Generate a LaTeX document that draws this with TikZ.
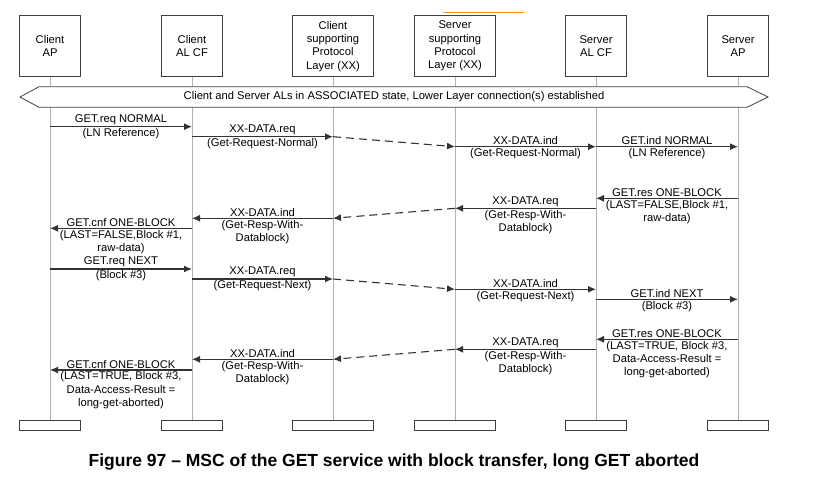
\documentclass[tikz,border=0pt]{standalone}
\usepackage{fontspec}
\setmainfont{Liberation Sans}
\usetikzlibrary{arrows.meta,positioning}

\begin{document}
\begin{tikzpicture}[x=1pt, y=-1pt, font=\fontsize{11.2}{13.3}\selectfont]
\tikzstyle{entity}=[draw=black!75, thick, minimum width=61pt, minimum height=61pt, align=center, inner sep=1pt]
\tikzstyle{wide}=[entity, minimum width=81pt]
\tikzstyle{foot}=[draw=black!75, thick, minimum width=61pt, minimum height=10pt, inner sep=0pt]
\tikzstyle{lifeline}=[draw=black!30, semithick]
\tikzstyle{msg}=[draw=black!80, line width=1.1pt, -{Latex[length=8pt,width=7pt]}]
\tikzstyle{net}=[msg, dash pattern=on 8pt off 5pt]
\tikzstyle{up}=[above, inner sep=1.2pt]
\tikzstyle{down}=[below, align=center, inner sep=1.2pt]
\useasboundingbox (0,0) rectangle (814,478);

\draw[orange!80!yellow, thick] (443,12.3) -- (524,12.3);

% entities
\node[entity] (cap)  at (50,46.2)  {Client\\AP};
\node[entity] (ccf)  at (192,46.2) {Client\\AL CF};
\node[wide]   (cpl)  at (333,46.2) {Client\\supporting\\Protocol\\Layer (XX)};
\node[wide]   (spl)  at (455,46.2) {Server\\supporting\\Protocol\\Layer (XX)};
\node[entity] (scf)  at (596,46.2) {Server\\AL CF};
\node[entity] (sap)  at (738,46.2) {Server\\AP};

\node[foot] (capf) at (50,425.8)  {};
\node[foot] (ccff) at (192,425.8) {};
\node[foot, minimum width=81pt] (cplf) at (333,425.8) {};
\node[foot, minimum width=81pt] (splf) at (455,425.8) {};
\node[foot] (scff) at (596,425.8) {};
\node[foot] (sapf) at (738,425.8) {};

\foreach \e in {cap,ccf,cpl,spl,scf,sap}
  \draw[lifeline] (\e.south) -- (\e f.north);

% association banner
\draw[draw=black!75, thick, fill=white] (20,97) -- (39,86.7) -- (747,86.7) -- (768,97) -- (747,107.3) -- (39,107.3) -- cycle;
\node (assoc) at (394,97) {Client and Server ALs in ASSOCIATED state, Lower Layer connection(s) established};

% first request
\draw[msg] (cap |- 0,126.7) -- node[up]{GET.req NORMAL} node[down]{(LN Reference)} (ccf |- 0,126.7);
\draw[msg] (ccf |- 0,136.7) -- node[up]{XX-DATA.req} node[down]{(Get-Request-Normal)} (cpl |- 0,136.7);
\draw[net] (cpl |- 0,136.7) -- (spl |- 0,146.7);
\draw[msg] (spl |- 0,146.7) -- node[up]{XX-DATA.ind} node[down]{(Get-Request-Normal)} (scf |- 0,146.7);
\draw[msg] (scf |- 0,146.7) -- node[up]{GET.ind NORMAL} node[down]{(LN Reference)} (sap |- 0,146.7);

% first response
\draw[msg] (sap |- 0,198.3) -- node[up]{GET.res ONE-BLOCK} node[down]{(LAST=FALSE,Block \#1,\\raw-data)} (scf |- 0,198.3);
\draw[msg] (scf |- 0,208.3) -- node[up]{XX-DATA.req} node[down]{(Get-Resp-With-\\Datablock)} (spl |- 0,208.3);
\draw[net] (spl |- 0,208.3) -- (cpl |- 0,218.3);
\draw[msg] (cpl |- 0,218.3) -- node[up]{XX-DATA.ind} node[down]{(Get-Resp-With-\\Datablock)} (ccf |- 0,218.3);
\draw[msg] (ccf |- 0,228.3) -- node[up]{GET.cnf ONE-BLOCK} node[down]{(LAST=FALSE,Block \#1,\\raw-data)} (cap |- 0,228.3);

% next request
\draw[msg] (cap |- 0,269) -- node[up]{GET.req NEXT} node[down]{(Block \#3)} (ccf |- 0,269);
\draw[msg] (ccf |- 0,279) -- node[up]{XX-DATA.req} node[down]{(Get-Request-Next)} (cpl |- 0,279);
\draw[net] (cpl |- 0,279) -- (spl |- 0,289.3);
\draw[msg] (spl |- 0,289.3) -- node[up]{XX-DATA.ind} node[down]{(Get-Request-Next)} (scf |- 0,289.3);
\draw[msg] (scf |- 0,299.3) -- node[up]{GET.ind NEXT} node[down]{(Block \#3)} (sap |- 0,299.3);

% aborted response
\draw[msg] (sap |- 0,339.3) -- node[up]{GET.res ONE-BLOCK} node[down]{(LAST=TRUE, Block \#3,\\Data-Access-Result =\\long-get-aborted)} (scf |- 0,339.3);
\draw[msg] (scf |- 0,349.3) -- node[up]{XX-DATA.req} node[down]{(Get-Resp-With-\\Datablock)} (spl |- 0,349.3);
\draw[net] (spl |- 0,349.3) -- (cpl |- 0,359.3);
\draw[msg] (cpl |- 0,359.3) -- node[up]{XX-DATA.ind} node[down]{(Get-Resp-With-\\Datablock)} (ccf |- 0,359.3);
\draw[msg] (ccf |- 0,370) -- node[up]{GET.cnf ONE-BLOCK} node[down]{(LAST=TRUE, Block \#3,\\Data-Access-Result =\\long-get-aborted)} (cap |- 0,370);

\node[font=\fontsize{17.5}{20}\selectfont\bfseries] (caption) at (394,462) {Figure 97 – MSC of the GET service with block transfer, long GET aborted};
\end{tikzpicture}
\end{document}
